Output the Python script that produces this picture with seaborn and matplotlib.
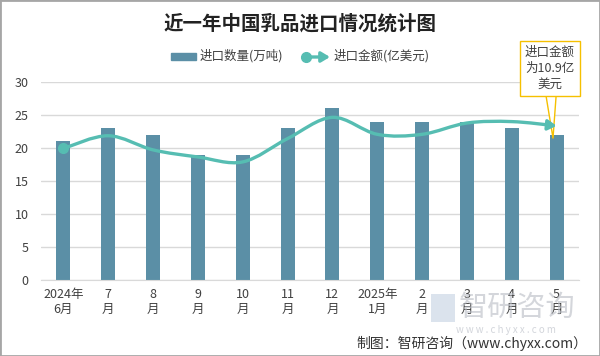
import numpy as np
import matplotlib
matplotlib.use('Agg')
import matplotlib.pyplot as plt
import seaborn as sns
from matplotlib.path import Path
from matplotlib.patches import FancyArrowPatch, Rectangle
from matplotlib.lines import Line2D

# 数据
months = ['2024年\n6月', '7\n月', '8\n月', '9\n月', '10\n月', '11\n月', '12\n月',
          '2025年\n1月', '2\n月', '3\n月', '4\n月', '5\n月']
volume = [21, 23, 22, 19, 19, 23, 26, 24, 24, 24, 23, 22]  # 进口数量(万吨)
amount = [9.3, 10.2, 9.2, 8.7, 8.35, 10.0, 11.5, 10.3, 10.3, 11.1, 11.2, 10.9]  # 进口金额(亿美元)

bar_color = '#5b8fa6'
line_color = '#56bdb2'
text_color = '#404040'

sns.set_style('white')
plt.rcParams['font.family'] = ['Noto Sans CJK SC', 'DejaVu Sans']

fig = plt.figure(figsize=(6, 3.56), dpi=100)
ax = fig.add_axes([41 / 600, 76 / 356, 538 / 600, 198 / 356])

sns.barplot(x=months, y=volume, color=bar_color, saturation=1, width=0.31,
            linewidth=0, ax=ax)
ax.set_ylim(0, 30)
ax.set_xlim(-0.5, 11.5)
ax.set_yticks(range(0, 31, 5))
ax.yaxis.grid(True, color='#d9d9d9', linewidth=1)
ax.set_axisbelow(True)
for s in ['top', 'right', 'left']:
    ax.spines[s].set_visible(False)
ax.spines['bottom'].set_color('#d9d9d9')
ax.tick_params(axis='both', length=0, labelsize=9, colors=text_color, pad=6)
ax.tick_params(axis='y', pad=9)
ax.set_xlabel('')
ax.set_ylabel('')

# 次坐标轴 (隐藏)
ax2 = ax.twinx()
ax2.set_ylim(0, 14)
ax2.set_axis_off()

# 平滑曲线 (Bezier 控制点)
xs = np.arange(len(amount), dtype=float)
ys = np.array(amount)
verts = [(xs[0], ys[0])]
codes = [Path.MOVETO]
for i in range(len(xs) - 1):
    p0 = np.array([xs[max(i - 1, 0)], ys[max(i - 1, 0)]])
    p1 = np.array([xs[i], ys[i]])
    p2 = np.array([xs[i + 1], ys[i + 1]])
    p3 = np.array([xs[min(i + 2, len(xs) - 1)], ys[min(i + 2, len(xs) - 1)]])
    c1 = p1 + (p2 - p0) / 6
    c2 = p2 - (p3 - p1) / 6
    verts += [tuple(c1), tuple(c2), tuple(p2)]
    codes += [Path.CURVE4] * 3
curve = FancyArrowPatch(path=Path(verts, codes), arrowstyle='-|>,head_length=5,head_width=3',
                        color=line_color, lw=2.4, shrinkA=0, shrinkB=0, zorder=3)
ax2.add_patch(curve)
ax2.plot(xs[0], ys[0], 'o', color=line_color, markersize=7, zorder=4)

# 标注
ax.annotate('进口金额\n为10.9亿\n美元', xy=(10.92, 21.5), xytext=(10.85, 32.1),
            ha='center', va='center', fontsize=9, color=text_color, linespacing=1.3,
            annotation_clip=False,
            bbox=dict(boxstyle='square,pad=0.4', fc='white', ec='#f5c000', lw=1),
            arrowprops=dict(arrowstyle='wedge,tail_width=0.8,shrink_factor=0.5',
                            fc='white', ec='#f5c000', lw=1, shrinkA=0, shrinkB=0))

# 标题
fig.text(0.5, 1 - 24 / 356, '近一年中国乳品进口情况统计图', ha='center', va='center',
         fontsize=14, fontweight='bold', color='#222222')

# 图例
fig.patches.append(Rectangle((171 / 600, 1 - 60 / 356), 25 / 600, 7 / 356,
                             transform=fig.transFigure, color=bar_color))
fig.text(200 / 600, 1 - 56 / 356, '进口数量(万吨)', ha='left', va='center',
         fontsize=9, color=text_color)
fig.patches.append(FancyArrowPatch((306 / 600, 1 - 57 / 356), (330 / 600, 1 - 57 / 356),
                                   transform=fig.transFigure, color=line_color, lw=2.4,
                                   arrowstyle='-|>,head_length=5,head_width=3',
                                   shrinkA=0, shrinkB=0))
fig.lines.append(Line2D([306 / 600], [1 - 57 / 356], transform=fig.transFigure,
                        marker='o', color=line_color, markersize=7))
fig.text(334 / 600, 1 - 56 / 356, '进口金额(亿美元)', ha='left', va='center',
         fontsize=9, color=text_color)

# 水印
fig.text(459 / 600, 1 - 308 / 356, '智研咨询', ha='left', va='center', fontsize=21,
         color='#b8bcc4', alpha=0.6)
fig.patches.append(Rectangle((431 / 600, 1 - 322 / 356), 24 / 600, 28 / 356,
                             transform=fig.transFigure, fc='#b9c8dc', alpha=0.5, lw=0))
fig.text(506 / 600, 1 - 330 / 356, 'w w w . c h y x x . c o m', ha='center', va='center',
         fontsize=7, color='#c0c4cc', alpha=0.7)

# 来源
fig.text(587 / 600, 1 - 343 / 356, '制图：智研咨询（www.chyxx.com）', ha='right', va='center',
         fontsize=10, color='#333333')

# 边框
fig.patches.append(Rectangle((0, 0), 1, 1, transform=fig.transFigure, fill=False,
                             ec='#a6a6a6', lw=2))

fig.savefig('out.png', dpi=100)
